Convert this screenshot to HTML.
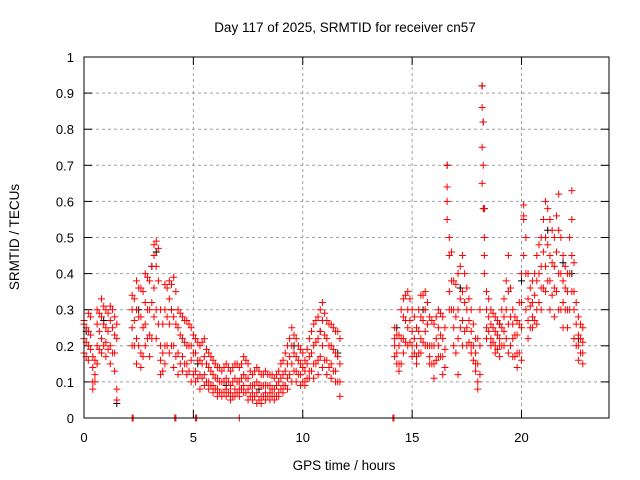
<!DOCTYPE html>
<html><head><meta charset="utf-8"><style>
html,body{margin:0;padding:0;background:#fff}
svg{display:block;font-family:"Liberation Sans",sans-serif}
</style></head><body>
<svg id="chart" width="640" height="480" xmlns="http://www.w3.org/2000/svg">
<rect width="640" height="480" fill="#fff"/>
<text x="345" y="32" font-size="13.5" text-anchor="middle">Day 117 of 2025, SRMTID for receiver cn57</text>
<text x="344" y="470" font-size="13.5" text-anchor="middle">GPS time / hours</text>
<text transform="translate(19,237) rotate(-90)" font-size="13.5" text-anchor="middle">SRMTID / TECUs</text>
<g id="grid"></g>
<g id="ticks"></g>
<g id="black"></g>
<g id="red"></g>
<rect x="84" y="57" width="525" height="361" fill="none" stroke="#000" stroke-width="1"/>
</svg>
<script>
const xTicks=[0,5,10,15,20];
const yTicks=[0,0.1,0.2,0.3,0.4,0.5,0.6,0.7,0.8,0.9,1];
const yTickLabels=["0","0.1","0.2","0.3","0.4","0.5","0.6","0.7","0.8","0.9","1"];
const redT=[0,0.2,0.4,0.6,0.8,1.0,1.2,1.4,1.5,2.2,2.4,2.6,2.8,3.0,3.2,3.3,3.5,3.7,3.9,4.1,4.3,4.5,4.7,4.9,5.1,5.3,5.5,5.7,5.9,6.1,6.3,6.5,6.7,6.9,7.1,7.3,7.5,7.7,7.9,8.1,8.3,8.5,8.7,8.9,9.1,9.3,9.5,9.7,9.9,10.1,10.3,10.5,10.7,10.9,11.1,11.3,11.5,11.7,
14.2,14.4,14.6,14.8,15.0,15.2,15.4,15.6,15.8,16.0,16.2,16.4,16.6,16.7,16.9,17.1,17.3,17.5,17.7,17.9,18.0,18.2,18.3,18.4,18.6,18.8,19.0,19.2,19.4,19.6,19.8,20.0,20.1,20.3,20.5,20.7,20.9,21.1,21.3,21.5,21.7,21.9,22.1,22.3,22.4,22.6,22.8];
const redV=[[.27,.22,.18,.26],[.29,.2,.16,.24],[.14,.1,.08,.17],[.3,.26,.2,.15],[.33,.28,.22,.18],[.3,.25,.21,.17],[.31,.27,.2,.15],[.28,.23,.18,.13],[.08,.05,.22,.26],
[.34,.3,.25,.2],[.38,.3,.22,.15],[.36,.28,.18,.14],[.4,.32,.26,.2],[.38,.3,.23,.17],[.48,.45,.36,.28],[.49,.42,.3,.22],[.3,.2,.16,.12],[.37,.3,.2,.15],[.38,.33,.26,.18],[.39,.28,.2,.14],[.3,.25,.18,.12],[.28,.22,.17,.13],[.27,.2,.15,.12],[.25,.2,.16,.1],
[.22,.18,.13,.1],[.2,.16,.12,.08],[.22,.17,.12,.09],[.18,.14,.1,.08],[.16,.12,.09,.07],[.14,.11,.08,.06],[.13,.1,.07,.06],[.15,.11,.08,.06],[.13,.09,.07,.05],[.15,.11,.08,.06],[.14,.1,.08,.06],[.17,.12,.09,.07],[.15,.11,.08,.05],[.12,.09,.07,.05],[.14,.1,.07,.04],[.12,.09,.06,.04],[.13,.09,.07,.05],[.12,.09,.07,.05],[.11,.08,.06,.05],[.13,.1,.07,.06],
[.16,.12,.09,.07],[.2,.15,.11,.08],[.25,.2,.15,.1],[.22,.17,.13,.1],[.19,.15,.12,.09],[.16,.13,.1,.09],[.22,.17,.13,.11],[.26,.2,.15,.11],[.28,.22,.16,.12],[.32,.27,.2,.14],[.27,.22,.16,.12],[.26,.2,.15,.11],[.24,.18,.13,.1],[.22,.15,.1,.06],
[.25,.2,.17,.22],[.2,.15,.13,.23],[.33,.28,.22,.18],[.35,.3,.25,.2],[.3,.24,.2,.17],[.25,.2,.17,.15],[.34,.28,.22,.18],[.35,.3,.24,.2],[.28,.2,.17,.15],[.26,.2,.15,.11],[.3,.25,.2,.17],[.28,.22,.17,.12],[.7,.64,.6,.55],[.5,.45,.35,.3],[.38,.3,.25,.2],[.4,.3,.22,.12],[.45,.35,.27,.2],[.36,.3,.25,.2],[.3,.24,.2,.18],[.22,.18,.15,.13],[.22,.15,.1,.08],
[.92,.86,.75,.65],[.58,.5,.45,.4],[.35,.3,.25,.22],[.3,.26,.22,.2],[.28,.24,.2,.18],[.26,.22,.2,.17],[.33,.28,.24,.2],[.45,.35,.26,.18],[.3,.26,.22,.17],[.27,.23,.18,.14],[.4,.32,.25,.16],[.59,.56,.55,.45],[.4,.33,.27,.22],[.38,.32,.28,.25],[.45,.38,.3,.26],[.5,.42,.36,.3],[.6,.5,.42,.35],[.55,.45,.38,.3],[.5,.42,.36,.28],[.62,.52,.4,.3],[.45,.38,.32,.25],[.4,.35,.3,.25],[.63,.55,.45,.35],[.43,.35,.3,.22],[.28,.23,.2,.16],[.25,.21,.18,.15]];
const redT2=[0.1,0.3,0.5,0.7,0.9,1.1,1.3,2.3,2.5,2.7,2.9,3.1,3.4,3.6,3.8,4.0,4.2,4.4,4.6,4.8,5.0,5.2,5.4,5.6,5.8,6.0,6.2,6.4,6.6,6.8,7.0,7.2,7.4,7.6,7.8,8.0,8.2,8.4,8.6,8.8,9.0,9.2,9.4,9.6,9.8,10.0,10.2,10.4,10.6,10.8,11.0,11.2,11.4,11.6,
14.3,14.5,14.7,14.9,15.1,15.3,15.5,15.7,15.9,16.1,16.3,16.5,16.8,17.0,17.2,17.4,17.6,17.8,18.1,18.25,18.5,18.7,18.9,19.1,19.3,19.5,19.7,19.9,20.2,20.4,20.6,20.8,21.0,21.2,21.4,21.6,21.8,22.0,22.2,22.5,22.7];
const redV2=[[.25,.21,.17],[.28,.23,.19],[.16,.12,.1],[.29,.24,.19],[.31,.26,.2],[.29,.24,.19],[.3,.25,.18],[.33,.27,.2],[.36,.28,.2],[.35,.25,.17],[.39,.3,.22],[.42,.32,.22],[.47,.38,.26],[.26,.18,.13],[.36,.28,.2],[.37,.3,.2],[.35,.26,.17],[.29,.23,.15],[.27,.21,.15],[.26,.2,.13],
[.23,.18,.12],[.21,.16,.11],[.21,.15,.11],[.19,.15,.1],[.17,.13,.09],[.15,.11,.08],[.14,.1,.07],[.14,.1,.07],[.14,.1,.07],[.14,.1,.06],[.15,.1,.07],[.15,.11,.08],[.16,.11,.07],[.13,.09,.06],[.13,.09,.06],[.13,.09,.05],[.12,.09,.06],[.12,.09,.06],[.12,.08,.06],[.12,.09,.06],
[.15,.11,.08],[.18,.13,.09],[.22,.17,.12],[.23,.18,.13],[.2,.16,.12],[.18,.14,.1],[.19,.15,.11],[.24,.18,.13],[.27,.21,.15],[.3,.24,.17],[.29,.23,.16],[.26,.2,.14],[.25,.19,.13],[.24,.17,.1],
[.23,.18,.15],[.3,.22,.15],[.34,.27,.21],[.33,.27,.21],[.28,.22,.18],[.3,.24,.18],[.34,.27,.21],[.32,.26,.2],[.27,.2,.15],[.28,.22,.16],[.29,.23,.17],[.25,.19,.14],[.46,.38,.3],[.37,.28,.18],[.42,.33,.25],[.4,.32,.24],[.33,.27,.21],[.26,.2,.16],[.3,.2,.12],
[.82,.7,.58],[.33,.28,.24],[.29,.25,.21],[.27,.23,.19],[.3,.25,.2],[.38,.3,.22],[.36,.28,.2],[.28,.23,.17],[.32,.26,.18],[.5,.4,.3],[.36,.31,.25],[.4,.34,.27],[.48,.4,.32],[.55,.46,.36],[.58,.48,.38],[.52,.43,.34],[.56,.46,.35],[.5,.4,.3],[.42,.36,.3],[.5,.4,.3],[.32,.26,.2],[.26,.22,.18]];
const zeroT=[2.2,2.25,4.15,4.2,5.1,5.15,7.1,14.12,14.17];
const blackT=[0.1,0.9,1.5,2.5,3.1,3.3,4.0,5.2,6.5,8.0,9.6,10.8,11.6,14.3,15.5,16.6,17.2,18.2,18.25,18.3,19.0,20.0,21.2,21.9,22.3,22.6];
const blackV=[.24,.27,.04,.3,.42,.46,.3,.15,.09,.08,.2,.24,.18,.25,.3,.7,.36,.92,.82,.58,.26,.38,.52,.43,.4,.22];

const X0=84,X1=609,Y0=418,Y1=57;
function sx(t){return X0+t*(X1-X0)/24;}
function sy(v){return Y0-v*(Y0-Y1);}
const NS="http://www.w3.org/2000/svg";
function mk(tag,attrs,parent){const e=document.createElementNS(NS,tag);for(const k in attrs)e.setAttribute(k,attrs[k]);parent.appendChild(e);return e;}
const grid=document.getElementById('grid'),ticks=document.getElementById('ticks');
yTicks.forEach((v,i)=>{
  const y=sy(v);
  if(v>0&&v<1){const l=mk('line',{x1:X0,x2:X1,y1:y,y2:y,stroke:'#a0a0a0','stroke-dasharray':'3,3'},grid);
  
  }
  mk('line',{x1:X0,x2:X0+8,y1:y,y2:y,stroke:'#000'},ticks);
  mk('line',{x1:X1-8,x2:X1,y1:y,y2:y,stroke:'#000'},ticks);
  const t=mk('text',{x:X0-10,y:y+5,'font-size':13,'text-anchor':'end'},ticks);
  t.textContent=yTickLabels[i];
  
  
});
xTicks.forEach(v=>{
  const x=sx(v);
  if(v>0){const l=mk('line',{x1:x,x2:x,y1:Y0,y2:Y1,stroke:'#a0a0a0','stroke-dasharray':'3,3'},grid);
  
  }
  mk('line',{x1:x,x2:x,y1:Y0,y2:Y0-8,stroke:'#000'},ticks);
  mk('line',{x1:x,x2:x,y1:Y1,y2:Y1+8,stroke:'#000'},ticks);
  const t=mk('text',{x:x,y:Y0+24,'font-size':13,'text-anchor':'middle'},ticks);
  t.textContent=String(v);
  
  
});
function cross(t,v){const x=sx(t),y=sy(v);return `M${x-3.5},${y}h7M${x},${y-3.5}v7`;}
let bd='';blackT.forEach((t,i)=>{bd+=cross(t,blackV[i]);});
const bp=mk('path',{d:bd,stroke:'#000',fill:'none','stroke-width':1},document.getElementById('black'));


let rd='';redT.forEach((t,i)=>{redV[i].forEach(v=>{rd+=cross(t,v);});});
redT2.forEach((t,i)=>{redV2[i].forEach(v=>{rd+=cross(t,v);});});
zeroT.forEach(t=>{rd+=cross(t,0);});
const rp=mk('path',{d:rd,stroke:'#f00',fill:'none','stroke-width':1},document.getElementById('red'));


</script>
</body></html>
